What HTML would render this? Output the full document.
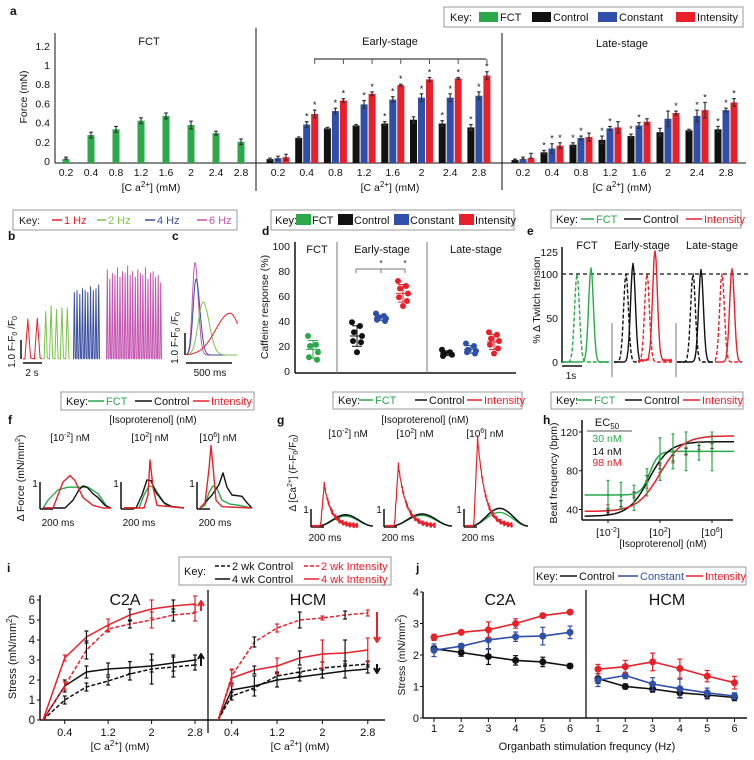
<!DOCTYPE html>
<html><head><meta charset="utf-8">
<style>
html,body{margin:0;padding:0;background:#fff;}
svg{display:block;font-family:"Liberation Sans",Arial,sans-serif;}
</style></head>
<body>
<svg id="fig" width="754" height="760" viewBox="0 0 754 760"></svg>
<script>
const NS='http://www.w3.org/2000/svg';
const fig=document.getElementById('fig');
const GREEN='#2aa84a',BLACK='#111',BLUE='#2f4fa8',RED='#e8202a',MAG='#c455b0',LGREEN='#7cc34a',DBLUE='#3b4fa0';

// ---------------- DATA ----------------
// panel a
const caLabels=['0.2','0.4','0.8','1.2','1.6','2','2.4','2.8'];
const fctForce=[0.02,0.27,0.33,0.42,0.47,0.375,0.29,0.20];
const fctErr=[0.02,0.03,0.03,0.03,0.03,0.04,0.02,0.03];
const earlyControl=[0.02,0.24,0.34,0.37,0.39,0.43,0.39,0.35];
const earlyConstant=[0.03,0.38,0.52,0.59,0.64,0.66,0.66,0.68];
const earlyIntensity=[0.04,0.49,0.63,0.70,0.79,0.85,0.86,0.89];
const earlyControlErr=[0.01,0.01,0.01,0.01,0.02,0.03,0.03,0.03];
const earlyConstantErr=[0.02,0.03,0.03,0.04,0.03,0.04,0.04,0.04];
const earlyIntensityErr=[0.03,0.04,0.02,0.02,0.01,0.02,0.01,0.04];
const lateControl=[0.01,0.09,0.17,0.22,0.26,0.30,0.32,0.33];
const lateConstant=[0.02,0.13,0.24,0.34,0.37,0.44,0.47,0.53];
const lateIntensity=[0.03,0.16,0.25,0.35,0.41,0.50,0.53,0.61];
const lateControlErr=[0.01,0.02,0.02,0.04,0.02,0.04,0.01,0.03];
const lateConstantErr=[0.02,0.05,0.02,0.02,0.03,0.08,0.06,0.02];
const lateIntensityErr=[0.05,0.03,0.04,0.06,0.03,0.02,0.08,0.04];
const earlyStars=[[0,0,0,0,1,0,1,1],[0,1,1,1,1,1,1,1],[0,1,1,1,1,1,1,1]];
const lateStars=[[0,1,1,1,1,0,0,1],[0,1,1,1,1,0,1,1],[0,1,0,0,0,1,1,1]];
// panel b (amplitudes in F-F0/F0 units)
const b1Hz=[2.1,2.15];
const b2Hz=[2.5,2.8,2.6,2.7,2.7];
const b4Hz=[3.5,3.6,3.4,3.7,3.6,3.5,3.8,3.6,3.7,3.9];
const b6Hz=[4.7,4.2,4.5,4.4,4.8,4.3,4.6,4.5,4.9,4.4,4.6,4.3,4.7,4.5,4.4,4.8,4.2,4.5,4.6,4.3,4.4,4.0];
// panel c
const cPeakMs=[98,109,185,478];
const cAmp=[4.2,3.45,2.4,1.9];
const cRiseMs=[40,45,75,220];
const cDecayMs=[50,60,95,150];
// panel d
const dFCT=[28,21,20,15,11,9];
const dEarlyControl=[39,36,31,28,24,23,15];
const dEarlyConstant=[46,44,43,42,41,40];
const dEarlyIntensity=[72,68,66,62,59,56,52];
const dLateControl=[17,15,14,13,12];
const dLateConstant=[22,20,17,16,15,14];
const dLateIntensity=[31,29,26,24,21,18,14];
// panel e (peak time in s, peak %)
const eFctTimes=[0.75,1.45], eFctPeaks=[100,107];
const eEarlyTimes=[0.6,0.95,1.65,2.05], eEarlyPeaks=[100,112,100,125];
const eLateTimes=[0.8,1.2,2.25,2.75], eLatePeaks=[100,105,100,106];
// panel h
const hLogConc=[-2,-1,0,1,2,3,4,5,6];
const hFCT=[55,54,52,68,92,100,100,100,100];
const hFCTErr=[15,14,13,14,22,18,20,9,20];
const hControl=[38,46,55,72,85,93,100,103,106];
const hIntensity=[41,45,50,66,82,92,100,106,112];
const hFit={fct:[55,100,1.2,1.3],control:[33,110,1.15,0.55],intensity:[38,116,2.0,0.5]};
// panel i
const iCaC2A=[0,0.4,0.8,1.2,1.6,2.0,2.4,2.8];
const iCaHCM=[0.16,0.4,0.8,1.2,1.6,2.0,2.4,2.8];
const c2aRed4=[0,3.1,4.15,4.75,5.25,5.55,5.7,5.8], c2aRed4E=[0,0.15,0.3,0.3,0.3,0.45,0.3,0.4];
const c2aRed2=[0,1.7,3.5,4.55,4.8,5.0,5.25,5.35], c2aRed2E=[0,0.2,0.45,0.15,0.2,0.4,0.3,0.4];
const c2aBlk4=[0,1.7,2.4,2.55,2.62,2.7,2.85,3.0], c2aBlk4E=[0,0.3,0.3,0.3,0.3,0.3,0.4,0.25];
const c2aBlk2=[0,1.0,1.65,1.95,2.3,2.55,2.65,2.75], c2aBlk2E=[0,0.2,0.2,0.2,0.3,0.75,0.5,0.25];
const hcmRed2=[0,2.2,3.9,4.6,5.0,5.1,5.25,5.35], hcmRed2E=[0,0.35,0.25,0.2,0.4,0.1,0.2,0.15];
const hcmRed4=[0,2.1,2.5,2.7,3.1,3.3,3.35,3.5], hcmRed4E=[0,0.4,0.2,0.4,0.35,0.7,0.65,0.6];
const hcmBlk4=[0,1.5,1.7,2.0,2.15,2.3,2.45,2.55], hcmBlk4E=[0,0.3,0.5,0.35,0.2,0.2,0.35,0.2];
const hcmBlk2=[0,1.2,1.6,2.2,2.4,2.6,2.7,2.8], hcmBlk2E=[0,0.2,0.1,0.2,0.2,0.3,0.25,0.15];
// panel j
const jFreq=[1,2,3,4,5,6];
const jC2ARed=[2.56,2.72,2.8,3.0,3.25,3.36], jC2ARedE=[0.1,0.05,0.25,0.15,0.05,0.05];
const jC2ABlue=[2.15,2.28,2.48,2.58,2.6,2.72], jC2ABlueE=[0.2,0.08,0.3,0.15,0.28,0.2];
const jC2ABlk=[2.2,2.08,1.95,1.83,1.78,1.65], jC2ABlkE=[0.08,0.12,0.25,0.15,0.15,0.07];
const jHCMRed=[1.55,1.63,1.78,1.57,1.33,1.12], jHCMRedE=[0.15,0.2,0.28,0.3,0.18,0.2];
const jHCMBlue=[1.2,1.35,1.08,0.93,0.8,0.7], jHCMBlueE=[0.2,0.1,0.2,0.3,0.15,0.1];
const jHCMBlk=[1.25,1.0,0.92,0.8,0.73,0.65], jHCMBlkE=[0.15,0.08,0.1,0.15,0.12,0.1];

// ---------------- HELPERS ----------------
function el(tag,attrs,name,parent){
  const e=document.createElementNS(NS,tag);
  for(const k in attrs) e.setAttribute(k,attrs[k]);
  
  
  (parent||fig).appendChild(e); return e;
}
function T(x,y,s,name,o={}){
  const e=el('text',{x:x,y:y,'font-size':o.fs||10,fill:o.c||'#111','text-anchor':o.a||'middle','font-weight':o.w||'normal'},name,o.p);
  if(o.rot!==undefined) e.setAttribute('transform','rotate('+o.rot+' '+x+' '+y+')');
  e.innerHTML=s; return e;
}
function L(x1,y1,x2,y2,name,o={}){return el('line',{x1:x1,y1:y1,x2:x2,y2:y2,stroke:o.c||'#111','stroke-width':o.w||1,'stroke-dasharray':o.d||'none'},name,o.p);}
function R(x,y,w,h,name,o={}){return el('rect',{x:x,y:y,width:w,height:h,fill:o.f||'none',stroke:o.s||'none','stroke-width':o.w||1},name,o.p);}
function P(d,name,o={}){return el('path',{d:d,fill:'none',stroke:o.c||'#111','stroke-width':o.w||1.2,'stroke-dasharray':o.d||'none','stroke-linejoin':'round'},name,o.p);}
function C(x,y,r,name,f){return el('circle',{cx:x,cy:y,r:r,fill:f},name);}
function pts(a){return 'M'+a.map(p=>p[0].toFixed(1)+','+p[1].toFixed(1)).join(' L');}
function errBar(x,y1,y2,name,c,cap){L(x,y1,x,y2,name,{c:c,w:1.2});L(x-cap,y1,x+cap,y1,name+'-cap',{c:c,w:1.2});L(x-cap,y2,x+cap,y2,name+'-cap',{c:c,w:1.2});}
const CA='[C a<tspan dy="-4" font-size="8">2+</tspan><tspan dy="4">] (mM)</tspan>';
function keyBox(x,y,w,h,name){R(x,y,w,h,name,{f:'#fff',s:'#999'});}
function keyLine(x1,x2,y,c,label,name,d){L(x1,y,x2,y,name+'-line',{c:c,w:1.5,d:d||'none'});T(x2+2,y+4,label,name+'-label',{fs:11,a:'start',c:c});}

// ---------------- PANEL A ----------------
T(10,15,'a','panel-a-label',{fs:12,w:'bold',a:'start'});
keyBox(444,7,299,20,'panel-a-key');
T(450,21,'Key:','key-title',{fs:11,a:'start'});
[['FCT',479,GREEN],['Control',532,BLACK],['Constant',598,BLUE],['Intensity',676,RED]].forEach(k=>{
  R(k[1],12,19,10,'key-swatch-'+k[0].toLowerCase(),{f:k[2]});
  T(k[1]+21,21,k[0],'key-label-'+k[0].toLowerCase(),{fs:11,a:'start'});
});
const yA=v=>161-96*v;
L(55,33,55,163,'a-y-axis');
[0,0.2,0.4,0.6,0.8,1,1.2].forEach(v=>{T(50,yA(v)+4,String(v),'a-y-tick',{fs:10.5,a:'end'});});
T(27,97,'Force (mN)','a-y-axis-title',{fs:10.5,rot:-90});
L(55,163,746,163,'a-x-axis');
L(256,28,256,191,'a-divider-early');
L(502,33,502,190,'a-divider-late');
T(149,45,'FCT','a-title-fct',{fs:11});
T(390,45,'Early-stage','a-title-early',{fs:11});
T(622,47,'Late-stage','a-title-late',{fs:11});
function barA(cx,v,e,c,name,star){
  R(cx-3.5,yA(v),7,163-yA(v),name,{f:c});
  errBar(cx,yA(v+e),yA(v-e>0?v-e:v),name+'-err','#333',1.8);
  if(star) T(cx,yA(v+e)-2,'*','a-significance-star',{fs:9});
}
fctForce.forEach((v,i)=>{const cx=66+i*25;barA(cx,v,fctErr[i],GREEN,'bar-fct-'+caLabels[i]);T(cx,176,caLabels[i],'a-x-tick',{fs:10.5});});
const earlySeries=[[earlyControl,earlyControlErr,BLACK,'control'],[earlyConstant,earlyConstantErr,BLUE,'constant'],[earlyIntensity,earlyIntensityErr,RED,'intensity']];
caLabels.forEach((lab,i)=>{const gc=278+i*28.7;
  earlySeries.forEach((s,j)=>barA(gc+(j-1)*8,s[0][i],s[1][i],s[2],'bar-early-'+s[3]+'-'+lab,earlyStars[j][i]));
  T(gc,176,lab,'a-x-tick',{fs:10.5});});
const lateSeries=[[lateControl,lateControlErr,BLACK,'control'],[lateConstant,lateConstantErr,BLUE,'constant'],[lateIntensity,lateIntensityErr,RED,'intensity']];
caLabels.forEach((lab,i)=>{const gc=523+i*29;
  lateSeries.forEach((s,j)=>barA(gc+(j-1)*8,s[0][i],s[1][i],s[2],'bar-late-'+s[3]+'-'+lab,lateStars[j][i]));
  T(gc,176,lab,'a-x-tick',{fs:10.5});});
T(151,191,CA,'a-x-axis-title-fct',{fs:10.5});
T(390,191,CA,'a-x-axis-title-early',{fs:10.5});
T(622,191,CA,'a-x-axis-title-late',{fs:10.5});
L(314,59,486,59,'a-bracket','');
for(let i=1;i<8;i++){L(278+i*28.7+8,59,278+i*28.7+8,64,'a-bracket-tick',{c:'#555'});}

// ---------------- PANEL B ----------------
keyBox(13,210,224,20,'panel-b-key');
T(19,224,'Key:','key-title',{fs:10.5,a:'start'});
keyLine(52,62,220,RED,'1 Hz','key-1hz');keyLine(97,106,220,LGREEN,'2 Hz','key-2hz');
keyLine(145,155,220,DBLUE,'4 Hz','key-4hz');keyLine(197,207,220,MAG,'6 Hz','key-6hz');
T(8,240,'b','panel-b-label',{fs:12,w:'bold',a:'start'});
const yB=v=>359-19*v;
function bSeg(arr,x0,x1,c,name){
  const sp=(x1-x0)/arr.length;let p=[[x0,yB(0)]];
  arr.forEach((a,i)=>{const px=x0+sp*(i+0.5);p.push([px-sp*0.3,yB(0)],[px,yB(a)],[px+sp*0.3,yB(0.05)]);});
  p.push([x1,yB(0)]);P(pts(p),name,{c:c,w:1});
}
bSeg(b1Hz,23,42,RED,'b-trace-1hz');bSeg(b2Hz,43,70,LGREEN,'b-trace-2hz');
bSeg(b4Hz,73,100,DBLUE,'b-trace-4hz');bSeg(b6Hz,106,162,MAG,'b-trace-6hz');
L(21,340,21,359,'b-scale-vertical',{w:1.5});L(23,363,42,363,'b-scale-time',{w:1.5});
T(15,342,'1.0 F-F<tspan font-size="7" dy="2">0</tspan><tspan dy="-2"> /F</tspan><tspan font-size="7" dy="2">0</tspan>','b-scale-label',{fs:10,rot:-90});
T(32,376,'2 s','b-time-label',{fs:10});

// ---------------- PANEL C ----------------
T(172,240,'c','panel-c-label',{fs:12,w:'bold',a:'start'});
const xC=ms=>186+ms*46/500, yC=v=>355-22*v;
const cColors=[MAG,DBLUE,LGREEN,RED];
cPeakMs.forEach((pk,k)=>{const p=[];
  for(let t=0;t<=560;t+=5){const w=t<pk?cRiseMs[k]:cDecayMs[k];p.push([xC(t),yC(cAmp[k]*Math.exp(-Math.pow((t-pk)/w,2)))]);}
  P(pts(p),'c-transient-'+k,{c:cColors[k],w:1});});
L(185,333,185,355,'c-scale-vertical',{w:1.5});L(186,363,232,363,'c-scale-time',{w:1.5});
T(178,338,'1.0 F-F<tspan font-size="7" dy="2">0</tspan><tspan dy="-2"> /F</tspan><tspan font-size="7" dy="2">0</tspan>','c-scale-label',{fs:10,rot:-90});
T(210,376,'500 ms','c-time-label',{fs:10});

// ---------------- PANEL D ----------------
keyBox(271,210,243,20,'panel-d-key');
T(275,224,'Key:','key-title',{fs:11,a:'start'});
[['FCT',296,GREEN],['Control',338,BLACK],['Constant',394,BLUE],['Intensity',459,RED]].forEach(k=>{
  R(k[1],214,15,11,'key-swatch-'+k[0].toLowerCase(),{f:k[2]});
  T(k[1]+16,224,k[0],'key-label-'+k[0].toLowerCase(),{fs:11,a:'start'});});
T(262,235,'d','panel-d-label',{fs:12,w:'bold',a:'start'});
const yD=v=>371-1.25*v;
L(295,242,295,373,'d-y-axis',{w:1.5});L(295,373,516,373,'d-x-axis',{w:1.5});
[0,20,40,60,80,100].forEach(v=>T(290,yD(v)+4,String(v),'d-y-tick',{fs:10.5,a:'end'}));
T(268,307,'Caffeine response (%)','d-y-axis-title',{fs:10.5,rot:-90});
L(337,242,337,373,'d-divider',{c:'#777'});L(427,242,427,373,'d-divider',{c:'#777'});
T(317,253,'FCT','d-title-fct',{fs:11});T(382,253,'Early-stage','d-title-early',{fs:11});T(476,253,'Late-stage','d-title-late',{fs:11});
const jit=[-5,3,-3,5,-4,4,0];
function dGroup(arr,cx,c,name){
  const m=arr.reduce((a,b)=>a+b,0)/arr.length;const sd=Math.sqrt(arr.reduce((a,b)=>a+(b-m)*(b-m),0)/(arr.length-1));
  L(cx,yD(m-sd),cx,yD(m+sd),name+'-sd',{c:c});L(cx-5,yD(m+sd),cx+5,yD(m+sd),name+'-cap',{c:c});L(cx-5,yD(m-sd),cx+5,yD(m-sd),name+'-cap',{c:c});
  L(cx-7,yD(m),cx+7,yD(m),name+'-mean',{c:c});
  arr.forEach((v,i)=>C(cx+jit[i%7],yD(v),3,name+'-point',c));
}
dGroup(dFCT,313,GREEN,'d-fct');dGroup(dEarlyControl,357,BLACK,'d-early-control');dGroup(dEarlyConstant,381,BLUE,'d-early-constant');
dGroup(dEarlyIntensity,403,RED,'d-early-intensity');dGroup(dLateControl,447,BLACK,'d-late-control');dGroup(dLateConstant,471,BLUE,'d-late-constant');dGroup(dLateIntensity,494,RED,'d-late-intensity');
L(356,269,405,269,'d-bracket',{c:'#777'});L(356,269,356,273,'d-bracket',{c:'#777'});L(381,269,381,273,'d-bracket',{c:'#777'});L(405,269,405,273,'d-bracket',{c:'#777'});
T(381,266,'*','d-star',{fs:8});T(405,266,'*','d-star',{fs:8});

// ---------------- PANEL E ----------------
keyBox(551,210,190,18,'panel-e-key');
T(556,223,'Key:','key-title',{fs:11,a:'start'});
keyLine(581,594,219,GREEN,'FCT','key-fct');keyLine(624,641,219,BLACK,'Control','key-control');keyLine(686,702,219,RED,'Intensity','key-intensity');
T(527,235,'e','panel-e-label',{fs:12,w:'bold',a:'start'});
const yE=v=>362-0.88*v;
L(562,247,562,363,'e-y-axis',{w:1.5});
[0,50,100,125].forEach(v=>T(558,yE(v)+4,String(v),'e-y-tick',{fs:10.5,a:'end'}));
T(540,300,'% Δ Twitch tension','e-y-axis-title',{fs:10.5,rot:-90});
L(562,274,750,274,'e-reference-100',{d:'4,3',w:1.3});
T(587,249,'FCT','e-title-fct',{fs:11});T(642,249,'Early-stage','e-title-early',{fs:11});T(712,249,'Late-stage','e-title-late',{fs:11});
L(612,323,612,377,'e-divider',{c:'#777'});L(676,323,676,377,'e-divider',{c:'#777'});
function eTrace(x0,t0,t1,tp,h,c,dash,noisy,name){
  const p=[];for(let t=t0;t<=t1+1e-6;t+=0.05){let v=h*Math.exp(-Math.pow((t-tp)/0.17,2));if(noisy)v+=3*Math.abs(Math.sin(t*37));p.push([x0+20*t,yE(v)]);}
  P(pts(p),name,{c:c,w:1.4,d:dash?'4,2':'none'});
}
eTrace(562,0,2.35,eFctTimes[0],eFctPeaks[0],GREEN,true,false,'e-fct-dashed');
eTrace(562,0,2.35,eFctTimes[1],eFctPeaks[1],GREEN,false,false,'e-fct-solid');
eTrace(614,0,1.3,eEarlyTimes[0],eEarlyPeaks[0],BLACK,true,false,'e-early-control-dashed');
eTrace(614,0,1.3,eEarlyTimes[1],eEarlyPeaks[1],BLACK,false,false,'e-early-control-solid');
eTrace(614,1.2,2.9,eEarlyTimes[2],eEarlyPeaks[2],RED,true,false,'e-early-intensity-dashed');
eTrace(614,1.2,2.9,eEarlyTimes[3],eEarlyPeaks[3],RED,false,true,'e-early-intensity-solid');
eTrace(677,0,1.8,eLateTimes[0],eLatePeaks[0],BLACK,true,false,'e-late-control-dashed');
eTrace(677,0,1.8,eLateTimes[1],eLatePeaks[1],BLACK,false,false,'e-late-control-solid');
eTrace(677,1.9,3.25,eLateTimes[2],eLatePeaks[2],RED,true,false,'e-late-intensity-dashed');
eTrace(677,1.9,3.25,eLateTimes[3],eLatePeaks[3],RED,false,false,'e-late-intensity-solid');
L(562,366,582,366,'e-scale-time',{w:1.5});T(571,379,'1s','e-time-label',{fs:10});

// ---------------- PANEL F ----------------
keyBox(61,392,193,18,'panel-f-key');
T(66,405,'Key:','key-title',{fs:11,a:'start'});
keyLine(88,104,401,GREEN,'FCT','key-fct');keyLine(135,152,401,BLACK,'Control','key-control');keyLine(193,209,401,RED,'Intensity','key-intensity');
T(8,424,'f','panel-f-label',{fs:12,w:'bold',a:'start'});
T(153,423,'[Isoproterenol] (nM)','f-conc-title',{fs:10});
const SUPL=['-2','2','6'];
[70,150,218].forEach((x,i)=>T(x,441,'[10<tspan dy="-4" font-size="7">'+SUPL[i]+'</tspan><tspan dy="4">] nM</tspan>','f-conc-label',{fs:10}));
T(24,478,'Δ Force (mN/mm<tspan dy="-4" font-size="7">2</tspan><tspan dy="4">)</tspan>','f-y-axis-title',{fs:10.5,rot:-90});
const fRed=[[[0,0],[10,0],[14,0.4],[20,1.0],[27,1.25],[32,1.05],[40,0.4],[50,0.1],[60,0],[68,0]],[[0,0],[20,0],[24,0.5],[26,1.85],[29,0.8],[33,0.1],[60,0]],[[0,0],[5,0.2],[9,1.5],[11,2.4],[13,1.6],[16,0.3],[22,0.05],[52,0]]];
const fBlack=[[[0,0],[22,0],[30,0.3],[36,0.7],[40,0.85],[44,0.8],[50,0.55],[55,0.4],[62,0.1],[68,0]],[[0,0],[12,0],[18,0.5],[23,1.08],[27,1.05],[32,0.6],[40,0.2],[48,0.05],[60,0]],[[0,0],[5,0.2],[12,0.5],[19,0.9],[23,1.35],[27,0.8],[32,0.5],[42,0.45],[47,0.2],[52,0]]];
const fGreen=[[[0,0],[5,0.3],[15,0.7],[25,0.8],[45,0.8],[55,0.55],[65,0]],[[0,0],[15,0],[20,0.5],[25,0.85],[30,0.8],[35,0.5],[42,0.1],[60,0]],[[0,0],[5,0.1],[9,0.6],[13,0.85],[17,0.75],[22,0.3],[30,0.15],[40,0.1],[52,0]]];
[43,124,200].forEach((x0,k)=>{
  const yF=v=>508-26*v;
  L(x0-3,482,x0-3,509,'f-scale-vertical',{w:1.5});L(x0-3,509,x0+10,509,'f-scale-time',{w:1.5});
  T(x0-8,487,'1','f-scale-label',{fs:10});T(x0+15,526,'200 ms','f-time-label',{fs:10});
  P(pts(fGreen[k].map(p=>[x0+p[0],yF(p[1])])),'f-trace-fct',{c:GREEN,w:1.4});
  P(pts(fBlack[k].map(p=>[x0+p[0],yF(p[1])])),'f-trace-control',{c:BLACK,w:1.4});
  P(pts(fRed[k].map(p=>[x0+p[0],yF(p[1])])),'f-trace-intensity',{c:RED,w:1.4});
});

// ---------------- PANEL G ----------------
const gRedPeak=[2.6,3.8,5.5], gBlackPeak=[0.7,0.75,1.1], gGreenPeak=[0.65,0.7,0.9];
keyBox(333,392,189,17,'panel-g-key');
T(338,404,'Key:','key-title',{fs:11,a:'start'});
keyLine(359,373,400,GREEN,'FCT','key-fct');keyLine(415,427,400,BLACK,'Control','key-control');keyLine(467,482,400,RED,'Intensity','key-intensity');
T(277,424,'g','panel-g-label',{fs:12,w:'bold',a:'start'});
T(425,423,'[Isoproterenol] (nM)','g-conc-title',{fs:10});
[348,415,485].forEach((x,i)=>T(x,437,'[10<tspan dy="-4" font-size="7">'+SUPL[i]+'</tspan><tspan dy="4">] nM</tspan>','g-conc-label',{fs:10}));
T(296,473,'Δ [Ca<tspan dy="-4" font-size="7">2+</tspan><tspan dy="4">] (F-F</tspan><tspan dy="2" font-size="7">0</tspan><tspan dy="-2">/F</tspan><tspan dy="2" font-size="7">0</tspan><tspan dy="-2">)</tspan>','g-y-axis-title',{fs:10,rot:-90});
[[312,61],[385,67],[465,63]].forEach((s,k)=>{
  const x0=s[0],w=s[1],yG=v=>526-16*v;
  L(x0-1,509,x0-1,527,'g-scale-vertical',{w:1.5});L(x0-1,527,x0+12,527,'g-scale-time',{w:1.5});
  T(x0-6,513,'1','g-scale-label',{fs:10});T(x0+13,541,'200 ms','g-time-label',{fs:10});
  const hump=(pk,sh)=>{const p=[];for(let i=0;i<=40;i++){const t=i/40;const v=t<0.1?0:pk*Math.pow(Math.sin(Math.PI*(t-0.1)/0.9),2)*(1-sh*t);p.push([x0+w*t,yG(v)]);}return p;};
  P(pts(hump(gGreenPeak[k],0.1)),'g-trace-fct',{c:GREEN,w:1.3});
  P(pts(hump(gBlackPeak[k],0)),'g-trace-control',{c:BLACK,w:1.5});
  const rp=[];const st=0.14,pkT=0.2;
  for(let i=0;i<=90;i++){const t=i/90*0.75;let v=0;if(t>st&&t<=pkT)v=gRedPeak[k]*(t-st)/(pkT-st);else if(t>pkT)v=gRedPeak[k]*Math.exp(-(t-pkT)/0.12);
    v+=0.15*Math.sin(i*2.7)*(t>st?1:0.3);rp.push([x0+w*t,yG(Math.max(v,-0.1))]);}
  P(pts(rp),'g-trace-intensity',{c:RED,w:1.2});
});

// ---------------- PANEL H ----------------
keyBox(551,392,192,17,'panel-h-key');
T(556,404,'Key:','key-title',{fs:11,a:'start'});
keyLine(576,592,400,GREEN,'FCT','key-fct');keyLine(625,642,400,BLACK,'Control','key-control');keyLine(683,700,400,RED,'Intensity','key-intensity');
T(543,424,'h','panel-h-label',{fs:12,w:'bold',a:'start'});
const xH=l=>608+13*(l+2), yH=v=>509.5-(v-40)*0.969;
L(582,420,582,520,'h-y-axis',{w:1.5});L(582,520,733,520,'h-x-axis',{w:1.5});
[40,80,120].forEach(v=>{L(579,yH(v),582,yH(v),'h-y-tick-mark');T(578,yH(v)+4,String(v),'h-y-tick',{fs:10.5,a:'end'});});
[-2,2,6].forEach((l,i)=>{L(xH(l),520,xH(l),523,'h-x-tick-mark');T(xH(l),536,'[10<tspan dy="-4" font-size="7">'+SUPL[i]+'</tspan><tspan dy="4">]</tspan>','h-x-tick',{fs:10.5});});
T(663,547,'[Isoproterenol] (nM)','h-x-axis-title',{fs:10});
T(557,473,'Beat frequency (bpm)','h-y-axis-title',{fs:10.5,rot:-90});
T(607,426,'EC<tspan dy="3" font-size="8">50</tspan>','h-ec50-title',{fs:11});
L(587,431,632,431,'h-ec50-rule',{c:'#555'});
T(607,442,'30 nM','h-ec50-fct',{fs:10.5,c:GREEN});T(607,455,'14 nM','h-ec50-control',{fs:10.5});T(607,466,'98 nM','h-ec50-intensity',{fs:10.5,c:RED});
function hill(p,l){return p[0]+(p[1]-p[0])/(1+Math.pow(10,(p[2]-l)*p[3]));}
[['fct',GREEN],['control',BLACK],['intensity',RED]].forEach(s=>{const p=[];for(let l=-3.8;l<=7.7;l+=0.1)p.push([xH(l),yH(hill(hFit[s[0]],l))]);P(pts(p),'h-fit-'+s[0],{c:s[1],w:1.5});});
hLogConc.forEach((l,i)=>{
  errBar(xH(l),yH(hIntensity[i]+4),yH(hIntensity[i]-4),'h-err-intensity',RED,1.5);
  errBar(xH(l),yH(hControl[i]+3),yH(hControl[i]-3),'h-err-control',BLACK,1.5);
  errBar(xH(l),yH(hFCT[i]+hFCTErr[i]),yH(hFCT[i]-hFCTErr[i]),'h-err-fct',GREEN,1.5);
  C(xH(l),yH(hFCT[i]),1.4,'h-point-fct',GREEN);
});

// ---------------- PANEL I ----------------
T(7,572,'i','panel-i-label',{fs:12,w:'bold',a:'start'});
keyBox(179,557,212,28,'panel-i-key');
T(184,575,'Key:','key-title',{fs:11,a:'start'});
keyLine(215,230,566,BLACK,'2 wk Control','key-2wk-control','4,2');
keyLine(304,319,566,RED,'2 wk Intensity','key-2wk-intensity','4,2');
keyLine(215,230,579,BLACK,'4 wk Control','key-4wk-control');
keyLine(304,319,579,RED,'4 wk Intensity','key-4wk-intensity');
const yI=v=>720-20*v, xI1=c=>43+54.3*c, xI2=c=>209+56.7*c;
L(40,595,40,720,'i-y-axis',{w:1.5});L(40,720,385,720,'i-x-axis',{w:1.5});
[0,1,2,3,4,5,6].forEach(v=>{L(37,yI(v),40,yI(v),'i-y-tick-mark');T(35,yI(v)+4,String(v),'i-y-tick',{fs:11.5,a:'end'});});
T(16,657,'Stress (mN/mm<tspan dy="-4" font-size="8">2</tspan><tspan dy="4">)</tspan>','i-y-axis-title',{fs:11,rot:-90});
L(208,590,208,733,'i-divider',{w:1.3});
T(125,605,'C2A','i-title-c2a',{fs:16});T(308,605,'HCM','i-title-hcm',{fs:16});
[0.4,1.2,2,2.8].forEach(c=>{L(xI1(c),720,xI1(c),724,'i-x-tick-mark');T(xI1(c),736,String(c),'i-x-tick',{fs:11});L(xI2(c),720,xI2(c),724,'i-x-tick-mark');T(xI2(c),736,String(c),'i-x-tick',{fs:11});});
T(120,750,CA,'i-x-axis-title-c2a',{fs:10.5});T(300,750,CA,'i-x-axis-title-hcm',{fs:10.5});
function iSeries(xs,xf,vals,errs,c,dash,name){
  P(pts(vals.map((v,i)=>[xf(xs[i]),yI(v)])),name,{c:c,w:1.5,d:dash?'4,2':'none'});
  vals.forEach((v,i)=>{if(i>0)errBar(xf(xs[i]),yI(v+errs[i]),yI(v-errs[i]),name+'-err',i%2?c:BLACK,2);});
}
iSeries(iCaC2A,xI1,c2aBlk2,c2aBlk2E,BLACK,true,'i-c2a-2wk-control');
iSeries(iCaC2A,xI1,c2aBlk4,c2aBlk4E,BLACK,false,'i-c2a-4wk-control');
iSeries(iCaC2A,xI1,c2aRed2,c2aRed2E,RED,true,'i-c2a-2wk-intensity');
iSeries(iCaC2A,xI1,c2aRed4,c2aRed4E,RED,false,'i-c2a-4wk-intensity');
iSeries(iCaHCM,xI2,hcmBlk2,hcmBlk2E,BLACK,true,'i-hcm-2wk-control');
iSeries(iCaHCM,xI2,hcmBlk4,hcmBlk4E,BLACK,false,'i-hcm-4wk-control');
iSeries(iCaHCM,xI2,hcmRed2,hcmRed2E,RED,true,'i-hcm-2wk-intensity');
iSeries(iCaHCM,xI2,hcmRed4,hcmRed4E,RED,false,'i-hcm-4wk-intensity');
function arrow(x,y1,y2,c,name){L(x,y1,x,y2,name,{c:c,w:2});const d=y2>y1?1:-1;P('M'+(x-3)+','+(y2-d*5)+' L'+x+','+y2+' L'+(x+3)+','+(y2-d*5),name+'-head',{c:c,w:2});}
arrow(201,611,601,RED,'i-arrow-c2a-intensity');arrow(201,666,654,BLACK,'i-arrow-c2a-control');
arrow(377,612,642,RED,'i-arrow-hcm-intensity');arrow(377,664,673,BLACK,'i-arrow-hcm-control');

// ---------------- PANEL J ----------------
T(416,572,'j','panel-j-label',{fs:12,w:'bold',a:'start'});
keyBox(534,567,212,18,'panel-j-key');
T(536,580,'Key:','key-title',{fs:11,a:'start'});
keyLine(560,577,576,BLACK,'Control','key-control');keyLine(618,638,576,BLUE,'Constant','key-constant');keyLine(686,703,576,RED,'Intensity','key-intensity');
const yJ=v=>718-31.5*v, xJ1=h=>434+27.2*(h-1), xJ2=h=>598+27.3*(h-1);
L(423,592,423,718,'j-y-axis',{w:1.5});L(423,718,747,718,'j-x-axis',{w:1.5});
[0,1,2,3,4].forEach(v=>{L(420,yJ(v),423,yJ(v),'j-y-tick-mark');T(419,yJ(v)+4,String(v),'j-y-tick',{fs:11,a:'end'});});
T(405,655,'Stress (mN/mm<tspan dy="-4" font-size="8">2</tspan><tspan dy="4">)</tspan>','j-y-axis-title',{fs:10.5,rot:-90});
L(586,590,586,718,'j-divider',{w:1.3});
T(500,605,'C2A','j-title-c2a',{fs:16});T(667,605,'HCM','j-title-hcm',{fs:16});
jFreq.forEach(h=>{L(xJ1(h),718,xJ1(h),722,'j-x-tick-mark');T(xJ1(h),732,String(h),'j-x-tick',{fs:11});L(xJ2(h),718,xJ2(h),722,'j-x-tick-mark');T(xJ2(h),732,String(h),'j-x-tick',{fs:11});});
T(587,750,'Organbath stimulation frequncy (Hz)','j-x-axis-title',{fs:11});
function jSeries(xf,vals,errs,c,name){
  P(pts(vals.map((v,i)=>[xf(jFreq[i]),yJ(v)])),name,{c:c,w:1.6});
  vals.forEach((v,i)=>{errBar(xf(jFreq[i]),yJ(v+errs[i]),yJ(v-errs[i]),name+'-err',c,2.5);C(xf(jFreq[i]),yJ(v),3.5,name+'-point',c);});
}
jSeries(xJ1,jC2ABlk,jC2ABlkE,BLACK,'j-c2a-control');jSeries(xJ1,jC2ABlue,jC2ABlueE,BLUE,'j-c2a-constant');jSeries(xJ1,jC2ARed,jC2ARedE,RED,'j-c2a-intensity');
jSeries(xJ2,jHCMBlk,jHCMBlkE,BLACK,'j-hcm-control');jSeries(xJ2,jHCMBlue,jHCMBlueE,BLUE,'j-hcm-constant');jSeries(xJ2,jHCMRed,jHCMRedE,RED,'j-hcm-intensity');
</script>
</body></html>
